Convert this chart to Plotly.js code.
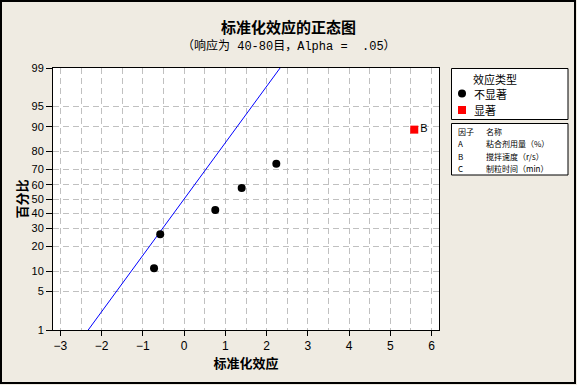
<!DOCTYPE html>
<html>
<head>
<meta charset="utf-8">
<script src="https://cdn.plot.ly/plotly-3.0.1.min.js"></script>
<style>
  html, body { margin: 0; padding: 0; background: #EFEBE2; }
  #wrap { position: relative; width: 577px; height: 385px; }
  #chart { width: 577px; height: 385px; }
  #frame { position: absolute; left: 0; top: 0; width: 576px; height: 384px; box-sizing: border-box;
           border: 2px solid #000; pointer-events: none; }
</style>
</head>
<body>
<div id="wrap"><div id="chart"></div><div id="frame"></div></div>
<script>
// ---- data ----
const nonsigEffects = [-0.73, -0.58, 0.755, 1.395, 2.235];
const nonsigPercent = [10.9, 26.6, 42.2, 57.8, 73.4];
const sigEffects = [5.58];
const sigPercent = [89.1];
const sigLabels = ['B'];
const yTickPercents = [1, 5, 10, 20, 30, 40, 50, 60, 70, 80, 90, 95, 99];
const xTicks = [-3, -2, -1, 0, 1, 2, 3, 4, 5, 6];
const refLineMean = 0;
const refLineSigma = 1;
const refLinePercents = [1, 99];
const factorCodes = ['A', 'B', 'C'];
const factorNames = ['粘合剂用量（%）', '搅拌速度（r/s）', '制粒时间（min）'];

// inverse standard normal CDF (Acklam)
function normInv(p) {
  const a = [-3.969683028665376e+01, 2.209460984245205e+02, -2.759285104469687e+02, 1.383577518672690e+02, -3.066479806614716e+01, 2.506628277459239e+00];
  const b = [-5.447609879822406e+01, 1.615858368580409e+02, -1.556989798598866e+02, 6.680131188771972e+01, -1.328068155288572e+01];
  const c = [-7.784894002430293e-03, -3.223964580411365e-01, -2.400758277161838e+00, -2.549671010029101e+00, 4.374664141464968e+00, 2.938163982698783e+00];
  const d = [7.784695709041462e-03, 3.224671290700398e-01, 2.445134137142996e+00, 3.754408661907416e+00];
  const pl = 0.02425, ph = 1 - pl;
  let q, r;
  if (p < pl) { q = Math.sqrt(-2 * Math.log(p));
    return (((((c[0]*q+c[1])*q+c[2])*q+c[3])*q+c[4])*q+c[5]) / ((((d[0]*q+d[1])*q+d[2])*q+d[3])*q+1); }
  if (p > ph) { q = Math.sqrt(-2 * Math.log(1 - p));
    return -(((((c[0]*q+c[1])*q+c[2])*q+c[3])*q+c[4])*q+c[5]) / ((((d[0]*q+d[1])*q+d[2])*q+d[3])*q+1); }
  q = p - 0.5; r = q * q;
  return (((((a[0]*r+a[1])*r+a[2])*r+a[3])*r+a[4])*r+a[5])*q / (((((b[0]*r+b[1])*r+b[2])*r+b[3])*r+b[4])*r+1);
}
const z = pct => normInv(pct / 100);

// ---- layout geometry (pixels) ----
const W = 577, H = 385;
const L = 53, R = 439, T = 68, B = 330;
const px = x => (x - L) / (R - L);
const py = y => (B - y) / (B - T);

const cjk = '"Noto Sans CJK SC", "Noto Sans", sans-serif';
const mono = '"Liberation Mono", "Noto Sans CJK SC", monospace';
const latin = '"Liberation Sans", Arial, sans-serif';

const traces = [
  {
    x: refLinePercents.map(p => refLineMean + refLineSigma * z(p)),
    y: refLinePercents.map(z),
    mode: 'lines', line: { color: '#0000FF', width: 1 },
    hoverinfo: 'skip', showlegend: false
  },
  {
    x: nonsigEffects, y: nonsigPercent.map(z),
    mode: 'markers', marker: { color: '#000', size: 8, symbol: 'circle' },
    name: '不显著', showlegend: false
  },
  {
    x: sigEffects, y: sigPercent.map(z), text: sigLabels,
    mode: 'markers+text', textposition: 'middle right',
    textfont: { family: latin, size: 11, color: '#000' },
    marker: { color: '#FF0000', size: 8, symbol: 'square' },
    name: '显著', showlegend: false
  }
];

const shapes = [
  { type: 'rect', xref: 'paper', yref: 'paper', x0: px(451.5), x1: px(568), y0: py(119.5), y1: py(68.5),
    line: { color: '#000', width: 1 }, fillcolor: '#FFFFFF' },
  { type: 'rect', xref: 'paper', yref: 'paper', x0: px(451.5), x1: px(568), y0: py(175), y1: py(123.5),
    line: { color: '#000', width: 1 }, fillcolor: '#FFFFFF' },
  { type: 'circle', xref: 'paper', yref: 'paper', x0: px(458), x1: px(466), y0: py(97.5), y1: py(89.5),
    line: { color: '#000', width: 0 }, fillcolor: '#000' },
  { type: 'rect', xref: 'paper', yref: 'paper', x0: px(458), x1: px(466), y0: py(114), y1: py(106),
    line: { width: 0 }, fillcolor: '#FF0000' }
];

const annotations = [
  { text: '（响应为 40-80目，Alpha =&nbsp;&nbsp;.05）', xref: 'paper', yref: 'paper', x: px(288.5), y: py(46),
    showarrow: false, font: { family: mono, size: 12, color: '#000' }, xanchor: 'center', yanchor: 'middle' },
  { text: '效应类型', xref: 'paper', yref: 'paper', x: px(495), y: py(78.5), showarrow: false,
    font: { family: cjk, size: 11, color: '#000' }, xanchor: 'center', yanchor: 'middle' },
  { text: '不显著', xref: 'paper', yref: 'paper', x: px(472), y: py(93.5), showarrow: false,
    font: { family: cjk, size: 11, color: '#000' }, xanchor: 'left', yanchor: 'middle' },
  { text: '显著', xref: 'paper', yref: 'paper', x: px(472), y: py(110), showarrow: false,
    font: { family: cjk, size: 11, color: '#000' }, xanchor: 'left', yanchor: 'middle' },
  { text: '因子', xref: 'paper', yref: 'paper', x: px(456), y: py(131), showarrow: false,
    font: { family: cjk, size: 8, color: '#000' }, xanchor: 'left', yanchor: 'middle' },
  { text: '名称', xref: 'paper', yref: 'paper', x: px(484), y: py(131), showarrow: false,
    font: { family: cjk, size: 8, color: '#000' }, xanchor: 'left', yanchor: 'middle' }
];
const rowY = [143, 156, 168.5];
factorCodes.forEach((code, i) => {
  annotations.push({ text: code, xref: 'paper', yref: 'paper', x: px(456), y: py(rowY[i]), showarrow: false,
    font: { family: cjk, size: 8, color: '#000' }, xanchor: 'left', yanchor: 'middle' });
  annotations.push({ text: factorNames[i], xref: 'paper', yref: 'paper', x: px(484), y: py(rowY[i]), showarrow: false,
    font: { family: cjk, size: 8, color: '#000' }, xanchor: 'left', yanchor: 'middle' });
});

const layout = {
  width: W, height: H,
  margin: { l: L, r: W - R, t: T, b: H - B, pad: 0 },
  paper_bgcolor: '#EFEBE2', plot_bgcolor: '#FFFFFF',
  showlegend: false,
  title: { text: '<b>标准化效应的正态图</b>', xref: 'container', yref: 'container', x: 0.5, y: 1 - 28 / H,
    xanchor: 'center', yanchor: 'middle', font: { family: cjk, size: 15, color: '#000' } },
  xaxis: {
    range: [-3.18, 6.18], tickvals: xTicks, ticktext: xTicks.map(v => v < 0 ? '−' + Math.abs(v) : String(v)),
    showline: true, linecolor: '#000', linewidth: 1, mirror: true,
    ticks: 'outside', ticklen: 5, tickcolor: '#000', tickwidth: 1,
    showgrid: true, gridcolor: '#C0C0C0', griddash: '6px,4px', gridwidth: 1,
    minor: { dtick: 0.5, tick0: 0, showgrid: true, gridcolor: '#C0C0C0', griddash: '6px,4px', gridwidth: 1, ticks: '' },
    zeroline: false,
    tickfont: { family: latin, size: 12, color: '#000' },
    title: { text: '<b>标准化效应</b>', standoff: 6, font: { family: cjk, size: 13, color: '#000' } }
  },
  yaxis: {
    range: [z(1), z(99)], tickvals: yTickPercents.map(z), ticktext: yTickPercents.map(String),
    showline: true, linecolor: '#000', linewidth: 1, mirror: true,
    ticks: 'outside', ticklen: 6, tickcolor: '#000', tickwidth: 1,
    showgrid: true, gridcolor: '#C0C0C0', griddash: '6px,4px', gridwidth: 1,
    zeroline: false,
    tickfont: { family: latin, size: 11, color: '#000' },
    title: { text: '<b>百分比</b>', standoff: 0, font: { family: cjk, size: 13, color: '#000' } }
  },
  shapes: shapes,
  annotations: annotations
};

Plotly.newPlot('chart', traces, layout, { staticPlot: true, displayModeBar: false });
</script>
</body>
</html>
